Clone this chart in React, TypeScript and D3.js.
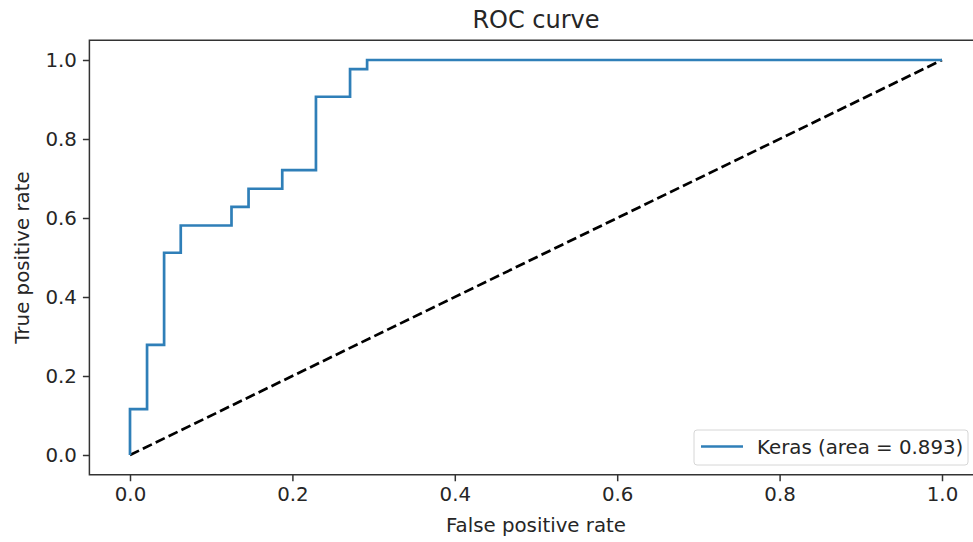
import React, { useEffect, useRef } from 'react';
import * as d3 from 'd3';

// ROC curve points (false positive rate / true positive rate)
const fpr = [0, 0, 0.021, 0.021, 0.042, 0.042, 0.0625, 0.0625, 0.125, 0.125, 0.146, 0.146, 0.1875, 0.1875, 0.229, 0.229, 0.271, 0.271, 0.292, 0.292, 1];
const tpr = [0, 0.116, 0.116, 0.279, 0.279, 0.512, 0.512, 0.581, 0.581, 0.628, 0.628, 0.674, 0.674, 0.721, 0.721, 0.907, 0.907, 0.977, 0.977, 1, 1];
const chance = [0, 1];
const ticks = [0, 0.2, 0.4, 0.6, 0.8, 1.0];
const seriesLabel = 'Keras (area = 0.893)';

const W = 973, H = 542;
const font = '"DejaVu Sans", sans-serif';

export default function App() {
  const ref = useRef<SVGSVGElement>(null);

  useEffect(() => {
    const svg = d3.select(ref.current);
    svg.selectAll('*').remove();

    const x = d3.scaleLinear().domain([-0.05, 1.05]).range([89.4, 982.6]);
    const y = d3.scaleLinear().domain([-0.05, 1.05]).range([474.75, 40.25]);
    const textColor = '#262626';
    const fs = 19.8;

    svg.append('rect').attr('width', W).attr('height', H).attr('fill', '#fff');

    const line = d3.line<number>()
      .x((_, i) => x(fpr[i]))
      .y(d => y(d));

    // chance line
    svg.append('path')
      .attr('d', d3.line<number>().x(d => x(d)).y(d => y(d))(chance))
      .attr('fill', 'none')
      .attr('stroke', '#000')
      .attr('stroke-width', 2.7)
      .attr('stroke-dasharray', '10,4.3');

    svg.append('path')
      .attr('d', line(tpr))
      .attr('fill', 'none')
      .attr('stroke', '#2f7fb8')
      .attr('stroke-width', 2.7);

    // axes
    const xAxis = d3.axisBottom(x).tickValues(ticks).tickFormat(d3.format('.1f')).tickSizeInner(6.5).tickSizeOuter(0).tickPadding(6);
    const yAxis = d3.axisLeft(y).tickValues(ticks).tickFormat(d3.format('.1f')).tickSizeInner(6.5).tickSizeOuter(0).tickPadding(6);

    const gx = svg.append('g').attr('transform', `translate(0,${y.range()[0]})`).call(xAxis);
    const gy = svg.append('g').attr('transform', `translate(${x.range()[0]},0)`).call(yAxis);
    [gx, gy].forEach(g => {
      g.select('.domain').remove();
      g.selectAll('line').attr('stroke', '#333').attr('stroke-width', 1.5);
      g.selectAll('text').attr('font-family', font).attr('font-size', fs).attr('fill', textColor);
    });

    // spines
    svg.append('rect')
      .attr('x', x.range()[0]).attr('y', y.range()[1])
      .attr('width', x.range()[1] - x.range()[0])
      .attr('height', y.range()[0] - y.range()[1])
      .attr('fill', 'none').attr('stroke', '#333').attr('stroke-width', 1.5);

    // title and labels
    svg.append('text')
      .attr('x', (x.range()[0] + x.range()[1]) / 2).attr('y', 28)
      .attr('text-anchor', 'middle').attr('font-family', font).attr('font-size', 24).attr('fill', textColor)
      .text('ROC curve');
    svg.append('text')
      .attr('x', (x.range()[0] + x.range()[1]) / 2).attr('y', 532)
      .attr('text-anchor', 'middle').attr('font-family', font).attr('font-size', fs).attr('fill', textColor)
      .text('False positive rate');
    svg.append('text')
      .attr('transform', `translate(29,${(y.range()[0] + y.range()[1]) / 2}) rotate(-90)`)
      .attr('text-anchor', 'middle').attr('font-family', font).attr('font-size', fs).attr('fill', textColor)
      .text('True positive rate');

    // legend
    const lg = svg.append('g').attr('transform', 'translate(694,430)');
    lg.append('rect')
      .attr('width', 274).attr('height', 35).attr('rx', 3)
      .attr('fill', '#fff').attr('fill-opacity', 0.8)
      .attr('stroke', '#d6d6d6').attr('stroke-width', 1);
    lg.append('line')
      .attr('x1', 7).attr('x2', 49).attr('y1', 16.5).attr('y2', 16.5)
      .attr('stroke', '#2f7fb8').attr('stroke-width', 2.7);
    lg.append('text')
      .attr('x', 63).attr('y', 24)
      .attr('font-family', font).attr('font-size', fs).attr('fill', textColor)
      .text(seriesLabel);
  }, []);

  return (
    <svg ref={ref} width={W} height={H} style={{ position: 'absolute', left: 0, top: 0 }} />
  );
}
